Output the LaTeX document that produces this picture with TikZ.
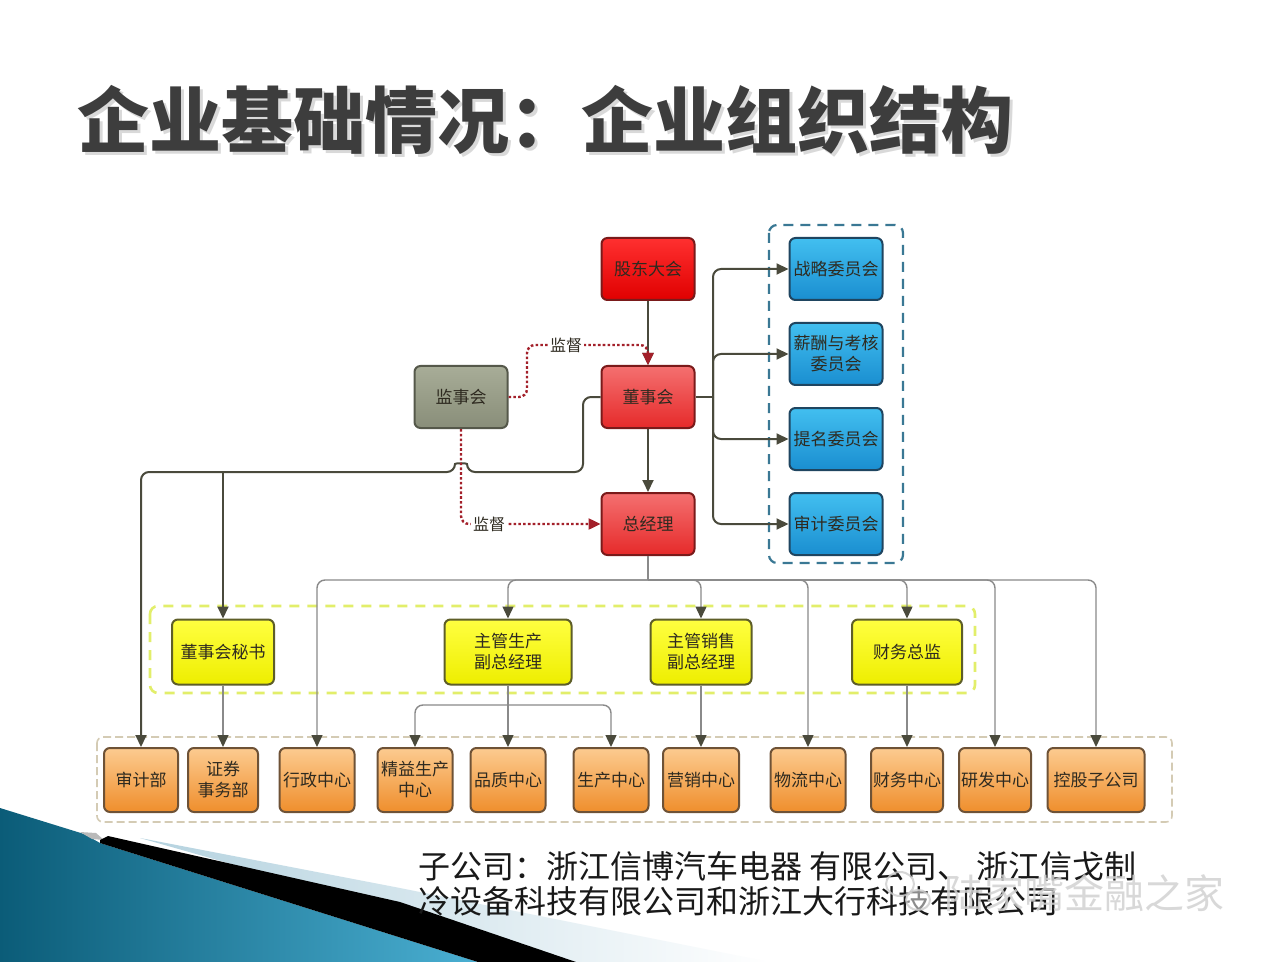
\documentclass[tikz,border=0pt]{standalone}
\usepackage{fontspec}
\setmainfont{Noto Sans CJK SC}
\usetikzlibrary{arrows.meta}
\definecolor{txt}{HTML}{2E2A20}
\definecolor{titlec}{HTML}{3D3D3D}
\definecolor{lineD}{HTML}{4A4A3C}
\definecolor{lineG}{HTML}{8A8A8A}
\definecolor{supc}{HTML}{A3202A}
\definecolor{redT}{HTML}{FF3030}
\definecolor{redB}{HTML}{E00000}
\definecolor{red2T}{HTML}{F47070}
\definecolor{red2B}{HTML}{E62A2A}
\definecolor{redE}{HTML}{7A1A1A}
\definecolor{greyT}{HTML}{A8AD98}
\definecolor{greyB}{HTML}{898E79}
\definecolor{greyE}{HTML}{55584A}
\definecolor{blueT}{HTML}{42BFF0}
\definecolor{blueB}{HTML}{1A8ED0}
\definecolor{blueE}{HTML}{1F4560}
\definecolor{yelT}{HTML}{FFFF40}
\definecolor{yelB}{HTML}{EEEE00}
\definecolor{yelE}{HTML}{5E5E28}
\definecolor{orT}{HTML}{FCCB90}
\definecolor{orB}{HTML}{EF8E2C}
\definecolor{orE}{HTML}{6E5236}
\definecolor{grpB}{HTML}{3A7894}
\definecolor{grpY}{HTML}{E2EE6A}
\definecolor{grpO}{HTML}{D4CBB4}
\definecolor{tealD}{HTML}{0B5C78}
\definecolor{tealL}{HTML}{4AAFD2}
\definecolor{bandL}{HTML}{B4D2DF}
\begin{document}
\begin{tikzpicture}[x=0.5pt,y=-0.5pt,
  box/.style={draw, line width=1pt, rounded corners=3pt, minimum height=31pt,
    inner sep=1pt, align=center, text=txt,
    font=\fontsize{8.5pt}{10.5pt}\selectfont},
  redA/.style={box, draw=redE, top color=redT, bottom color=redB, minimum width=46.5pt},
  redL/.style={box, draw=redE, top color=red2T, bottom color=red2B, minimum width=46.5pt},
  greybox/.style={box, draw=greyE, top color=greyT, bottom color=greyB, minimum width=46.5pt},
  bluebox/.style={box, draw=blueE, top color=blueT, bottom color=blueB, minimum width=46.5pt},
  yelbox/.style={box, draw=yelE, top color=yelT, bottom color=yelB, minimum height=32.5pt},
  orbox/.style={box, draw=orE, top color=orT, bottom color=orB, minimum height=32pt, inner sep=0.5pt},
  arr/.style={-{Triangle[length=6pt,width=5.5pt,color=lineD]}},
  arrR/.style={-{Triangle[length=6pt,width=5.5pt,color=supc]}},
  main/.style={draw=lineD, line width=1pt, rounded corners=4pt},
  thin/.style={draw=lineG, line width=0.7pt, rounded corners=4pt},
  superv/.style={draw=supc, line width=1.2pt, dash pattern=on 1.3pt off 1.1pt, rounded corners=4pt},
  suplabel/.style={fill=white, inner sep=1pt, text=txt, font=\fontsize{8pt}{9pt}\selectfont}
]
\useasboundingbox (0,0) rectangle (1284,962);
\fill[white] (0,0) rectangle (1284,962);

% bottom-left decoration
\shade[left color=bandL, right color=white] (140,838) -- (400,888) -- (770,962) -- (575,962) -- cycle;
\shade[shading angle=70, left color=tealD, right color=tealL] (0,808) -- (84,834) -- (100,843) -- (478,962) -- (0,962) -- cycle;
\fill[gray!55] (80,832) -- (96,833) -- (104,840) -- (92,839) -- cycle;
\fill[black] (100,840) -- (108,836) -- (400,902) -- (576,962) -- (478,962) -- (100,843) -- cycle;

% title
\node[anchor=west, inner sep=0, text=gray!30, font=\fontsize{36pt}{40pt}\selectfont\bfseries] (titleshadow) at (80,123) {企业基础情况：企业组织结构};
\node[anchor=west, inner sep=0, text=titlec, font=\fontsize{36pt}{40pt}\selectfont\bfseries] (title) at (77,120) {企业基础情况：企业组织结构};

% groups
\draw[grpB, line width=1.1pt, dash pattern=on 5pt off 3.5pt, rounded corners=4pt] (769,225) rectangle (903,563);
\draw[grpY, line width=1.3pt, dash pattern=on 5pt off 4pt, rounded corners=4pt] (150,606) rectangle (975,693);
\draw[grpO, line width=0.8pt, dash pattern=on 4pt off 2pt, rounded corners=3pt] (97,737) rectangle (1172,822);

% top nodes
\node[redA] (gd) at (648,269) {股东大会};
\node[redL] (dsh) at (648,397) {董事会};
\node[redL] (zjl) at (648,524) {总经理};
\node[greybox] (jsh) at (461,397) {监事会};

\node[bluebox] (zl) at (836,269) {战略委员会};
\node[bluebox] (xc) at (836,354) {薪酬与考核\\委员会};
\node[bluebox] (tm) at (836,439) {提名委员会};
\node[bluebox] (sjw) at (836,524) {审计委员会};

% yellow
\node[yelbox, minimum width=51pt] (dm) at (223,652) {董事会秘书};
\node[yelbox, minimum width=63.5pt] (sc) at (508,652) {主管生产\\副总经理};
\node[yelbox, minimum width=50.5pt] (xs) at (701,652) {主管销售\\副总经理};
\node[yelbox, minimum width=55pt] (cw) at (907,652) {财务总监};

% orange
\node[orbox, minimum width=37pt] (sj) at (141,780) {审计部};
\node[orbox, minimum width=35pt] (zq) at (223,780) {证券\\事务部};
\node[orbox, minimum width=37.5pt] (xz) at (317,780) {行政中心};
\node[orbox, minimum width=37.5pt] (jy) at (415,780) {精益生产\\中心};
\node[orbox, minimum width=37.5pt] (pz) at (508,780) {品质中心};
\node[orbox, minimum width=37.5pt] (scz) at (611,780) {生产中心};
\node[orbox, minimum width=38pt] (yx) at (701,780) {营销中心};
\node[orbox, minimum width=37.5pt] (wl) at (808,780) {物流中心};
\node[orbox, minimum width=36pt] (cwz) at (907,780) {财务中心};
\node[orbox, minimum width=36pt] (yf) at (995,780) {研发中心};
\node[orbox, minimum width=48.5pt] (kg) at (1096,780) {控股子公司};

% main connectors
\draw[main,arr] (gd) -- (dsh);
\draw[main,arr] (dsh) -- (zjl);
\coordinate (tr) at (713,397);
\draw[main] (dsh.east) -- (tr);
\draw[main,arr] (tr) |- (zl.west);
\draw[main,arr] (tr) |- (xc.west);
\draw[main,arr] (tr) |- (tm.west);
\draw[main,arr] (tr) |- (sjw.west);

\draw[main,arr] (dsh.west) -- (583,397) -- (583,472) -- (467,472)
  .. controls (467,463) and (455,463) .. (455,472) -- (141,472) -- (sj.north);
\coordinate (jb) at (223,472);
\draw[main,arr] (jb) -- (dm.north);
\draw[thin,arr] (dm) -- (zq);

% general manager bus
\coordinate (bus) at (648,580);
\draw[thin] (zjl) -- (bus);
\draw[thin,arr] (bus) -| (xz.north);
\draw[thin,arr] (bus) -| (sc.north);
\draw[thin,arr] (bus) -| (xs.north);
\draw[thin,arr] (bus) -| (wl.north);
\draw[thin,arr] (bus) -| (cw.north);
\draw[thin,arr] (bus) -| (yf.north);
\draw[thin,arr] (bus) -| (kg.north);

% production bus
\coordinate (pb) at (508,705);
\draw[thin,arr] (sc) -- (pz);
\draw[thin,arr] (pb) -| (jy.north);
\draw[thin,arr] (pb) -| (scz.north);
\draw[thin,arr] (xs) -- (yx);
\draw[thin,arr] (cw) -- (cwz);

% supervision
\draw[superv,arrR] (jsh.east) -- (527,397) -- (527,345) -- (648,345) -- (dsh.north);
\node[suplabel] (lab1) at (566,345) {监督};
\draw[superv,arrR] (jsh.south) -- (461,524) -- (zjl.west);
\node[suplabel] (lab2) at (489,524) {监督};

% subsidiaries text
\node[anchor=west, inner sep=0, text=black!90, font=\fontsize{16pt}{19pt}\selectfont] (sub1) at (418,866) {子公司：浙江信博汽车电器 有限公司、 浙江信戈制};
\node[anchor=west, inner sep=0, text=black!90, font=\fontsize{16pt}{19pt}\selectfont] (sub2) at (418,901) {冷设备科技有限公司和浙江大行科技有限公司};

% watermark
\draw[gray!40, line width=1pt, opacity=0.8] (900,884) ellipse [x radius=14, y radius=12];
\draw[gray!40, line width=1pt, opacity=0.8, fill=white, fill opacity=0.5] (918,900) ellipse [x radius=12, y radius=10];
\node[anchor=west, inner sep=0, text=gray!35, opacity=0.85, font=\fontsize{20pt}{22pt}\selectfont] (wm) at (944,893) {陆家嘴金融之家};
\end{tikzpicture}
\end{document}
